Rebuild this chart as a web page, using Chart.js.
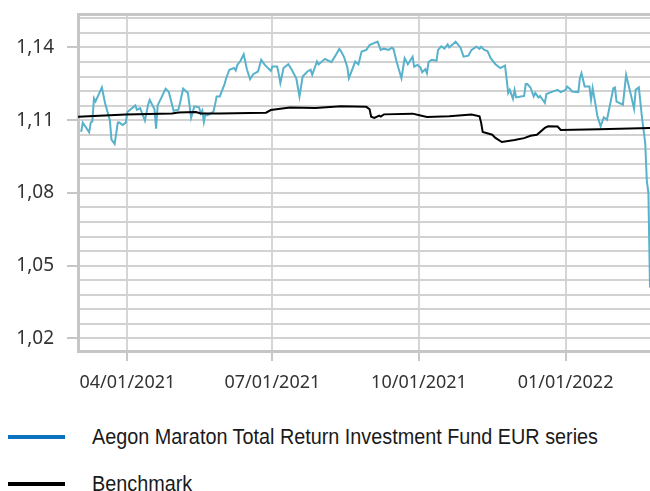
<!DOCTYPE html>
<html>
<head>
<meta charset="utf-8">
<script src="https://cdn.jsdelivr.net/npm/chart.js@4.4.1/dist/chart.umd.min.js"></script>
<style>
  html, body { margin: 0; padding: 0; background: #fff; }
  body { width: 650px; height: 491px; overflow: hidden; position: relative; }
  #chartBox { position: absolute; left: 0; top: 0; width: 650px; height: 400px; }
  .legend-item { position: absolute; left: 0; height: 30px; display: flex; align-items: center; }
  .legend-line { width: 57px; height: 4px; margin-left: 8px; margin-right: 27px; flex: none; }
  .legend-text { font-family: "Liberation Sans", Arial, sans-serif; font-size: 22px; color: #1a1a1a; white-space: nowrap; display: inline-block; transform-origin: left center; }
</style>
</head>
<body>
<div id="chartBox"><canvas id="fundChart"></canvas></div>
<div id="legend"></div>
<script>
// x values are days since 2021-03-01
const fundDays = [
  2, 3, 5, 7, 8, 9, 10, 11, 15, 17, 20, 21, 23, 25, 26, 28, 30, 31, 36, 37,
  39, 42, 44, 45, 48, 49, 50, 55, 57, 60, 63, 64, 66, 69, 71, 73, 76, 77, 78, 79,
  80, 81, 83, 85, 86, 87, 89, 91, 92, 93, 95, 98, 99, 100, 102, 104, 106, 108, 110, 113,
  115, 117, 121, 122, 125, 126, 127, 129, 132, 134, 137, 139, 141, 144, 146, 147, 150, 151, 155, 159,
  161, 164, 165, 167, 169, 170, 174, 176, 178, 181, 183, 188, 190, 192, 195, 197, 198, 200, 203, 205,
  207, 210, 211, 213, 215, 216, 218, 219, 220, 222, 225, 226, 228, 230, 232, 233, 237, 240, 242, 245,
  247, 250, 252, 253, 255, 257, 259, 262, 265, 268, 269, 270, 271, 273, 274, 275, 278, 280, 281, 282,
  284, 286, 287, 289, 290, 293, 294, 297, 301, 303, 306, 307, 309, 310, 314, 315, 316, 318, 321, 322,
  323, 325, 326, 328, 330, 332, 336, 337, 338, 342, 344, 347, 349, 350, 352, 354, 356, 357, 358, 359
];
const fundValues = [
  1.1052, 1.1090, 1.1070, 1.1050, 1.1090, 1.1095, 1.1190, 1.1177, 1.1235, 1.1170,
  1.1100, 1.1020, 1.1002, 1.1090, 1.1090, 1.1080, 1.1090, 1.1134, 1.1161, 1.1143,
  1.1150, 1.1098, 1.1164, 1.1184, 1.1145, 1.1065, 1.1161, 1.1230, 1.1216, 1.1139,
  1.1143, 1.1170, 1.1230, 1.1212, 1.1110, 1.1157, 1.1153, 1.1128, 1.1140, 1.1093,
  1.1126, 1.1120, 1.1126, 1.1136, 1.1164, 1.1198, 1.1198, 1.1232, 1.1249, 1.1273,
  1.1308, 1.1315, 1.1305, 1.1328, 1.1345, 1.1372, 1.1310, 1.1269, 1.1290, 1.1301,
  1.1349, 1.1330, 1.1303, 1.1321, 1.1321, 1.1290, 1.1253, 1.1315, 1.1331, 1.1310,
  1.1273, 1.1198, 1.1280, 1.1301, 1.1308, 1.1287, 1.1342, 1.1330, 1.1353, 1.1339,
  1.1360, 1.1394, 1.1385, 1.1360, 1.1320, 1.1273, 1.1342, 1.1330, 1.1383, 1.1390,
  1.1410, 1.1424, 1.1390, 1.1395, 1.1390, 1.1399, 1.1394, 1.1340, 1.1273, 1.1356,
  1.1331, 1.1362, 1.1321, 1.1328, 1.1317, 1.1298, 1.1310, 1.1294, 1.1340, 1.1349,
  1.1345, 1.1390, 1.1405, 1.1395, 1.1413, 1.1400, 1.1424, 1.1400, 1.1362, 1.1366,
  1.1390, 1.1403, 1.1394, 1.1403, 1.1390, 1.1385, 1.1356, 1.1331, 1.1315, 1.1325,
  1.1270, 1.1212, 1.1225, 1.1188, 1.1225, 1.1194, 1.1198, 1.1200, 1.1249, 1.1249,
  1.1235, 1.1198, 1.1212, 1.1194, 1.1200, 1.1171, 1.1208, 1.1216, 1.1225, 1.1216,
  1.1225, 1.1239, 1.1228, 1.1218, 1.1216, 1.1273, 1.1294, 1.1239, 1.1239, 1.1184,
  1.1232, 1.1157, 1.1116, 1.1075, 1.1112, 1.1102, 1.1232, 1.1235, 1.1177, 1.1164,
  1.1287, 1.1205, 1.1147, 1.1225, 1.1235, 1.1109, 1.1006, 1.0850, 1.0800, 1.0410
];
const benchDays = [
  0, 30, 59, 63, 74, 77, 89, 108, 118, 121, 133, 149, 165, 181, 183, 184, 186, 189, 190, 192,
  210, 215, 219, 233, 247, 252, 253, 254, 260, 262, 266, 274, 280, 284, 288, 293, 295, 301, 303, 327,
  359
];
const benchValues = [
  1.1114, 1.1123, 1.1128, 1.1132, 1.1134, 1.1128, 1.1128, 1.1130, 1.1131, 1.1142,
  1.1152, 1.1150, 1.1157, 1.1155, 1.1145, 1.1114, 1.1109, 1.1119, 1.1115, 1.1124,
  1.1127, 1.1119, 1.1113, 1.1116, 1.1123, 1.1116, 1.1090, 1.1051, 1.1040, 1.1027,
  1.1010, 1.1018, 1.1026, 1.1036, 1.1040, 1.1068, 1.1075, 1.1074, 1.1060, 1.1063,
  1.1068
];
const xTickDays = [31, 122, 214, 306];
const xTickLabels = ["04/01/2021", "07/01/2021", "10/01/2021", "01/01/2022"];
const yLabelTicks = [1.02, 1.05, 1.08, 1.11, 1.14];
const yGridStep = 0.006;
const yMin = 1.0148;
const yMax = 1.1538;

const seriesNames = ["Aegon Maraton Total Return Investment Fund EUR series", "Benchmark"];
const legendColors = ["#0b72c0", "#000000"];

function toPoints(days, values) {
  return days.map((d, i) => ({ x: d, y: values[i] }));
}

function isLabelTick(v) {
  return yLabelTicks.some((t) => Math.abs(t - v) < 1e-6);
}

const tickFont = { family: "'Noto Sans', sans-serif" };

new Chart(document.getElementById("fundChart"), {
  type: "line",
  data: {
    datasets: [
      {
        label: seriesNames[0],
        data: toPoints(fundDays, fundValues),
        borderColor: "#58b2cb",
        borderWidth: 2,
        pointRadius: 0,
        tension: 0,
        order: 1,
      },
      {
        label: seriesNames[1],
        data: toPoints(benchDays, benchValues),
        borderColor: "#000000",
        borderWidth: 2,
        pointRadius: 0,
        tension: 0,
        order: 0,
      },
    ],
  },
  options: {
    responsive: true,
    maintainAspectRatio: false,
    animation: false,
    layout: { padding: { top: 14, left: 0, right: 0, bottom: 0 } },
    plugins: {
      legend: { display: false },
      tooltip: { enabled: false },
    },
    scales: {
      x: {
        type: "linear",
        min: 0,
        max: 359,
        afterBuildTicks: (scale) => {
          scale.ticks = xTickDays.map((v) => ({ value: v }));
        },
        afterFit: (scale) => {
          scale.height = 49;
          scale.paddingLeft = 0;
          scale.paddingRight = 0;
        },
        ticks: {
          autoSkip: false,
          maxRotation: 0,
          padding: 11,
          color: "#333333",
          font: { ...tickFont, size: 18 },
          callback: (value, index) => xTickLabels[index],
        },
        grid: { color: "#d6d6d6", lineWidth: 2, tickLength: 10, tickColor: "#c8c8c8" },
        border: { color: "#c6c6c6", width: 3 },
      },
      y: {
        type: "linear",
        min: yMin,
        max: yMax,
        afterBuildTicks: (scale) => {
          const ticks = [];
          for (let i = 0; 1.02 + i * yGridStep < yMax - 0.0005; i++) {
            ticks.push({ value: 1.02 + i * yGridStep });
          }
          ticks.push({ value: yMax });
          scale.ticks = ticks;
        },
        afterFit: (scale) => {
          scale.width = 78;
          scale.paddingTop = 0;
          scale.paddingBottom = 0;
        },
        ticks: {
          autoSkip: false,
          padding: 13,
          color: "#333333",
          font: { ...tickFont, size: 19 },
          callback: (value) => (isLabelTick(value) ? value.toFixed(2).replace(".", ",") : ""),
        },
        grid: {
          color: (ctx) => (ctx.tick && ctx.tick.value === yMax ? "#c6c6c6" : "#d2d2d2"),
          lineWidth: (ctx) => (ctx.tick && ctx.tick.value === yMax ? 3 : 2),
          tickLength: 11,
          tickColor: (ctx) => (ctx.tick && isLabelTick(ctx.tick.value) ? "#c6c6c6" : "rgba(0,0,0,0)"),
        },
        border: { color: "#c6c6c6", width: 3 },
      },
    },
  },
});

const legendBox = document.getElementById("legend");
const legendTops = [422, 469];
seriesNames.forEach((name, i) => {
  const item = document.createElement("div");
  item.className = "legend-item";
  item.style.top = legendTops[i] + "px";
  item.innerHTML = `<span class="legend-line" style="background:${legendColors[i]}"></span><span class="legend-text">${name}</span>`;
  legendBox.appendChild(item);
});

// the reference legend uses a condensed face: squeeze the text to the same width
const firstText = legendBox.querySelector(".legend-text");
const squeeze = 506 / firstText.getBoundingClientRect().width;
legendBox.querySelectorAll(".legend-text").forEach((el) => {
  el.style.transform = `scaleX(${squeeze})`;
});
</script>
</body>
</html>
